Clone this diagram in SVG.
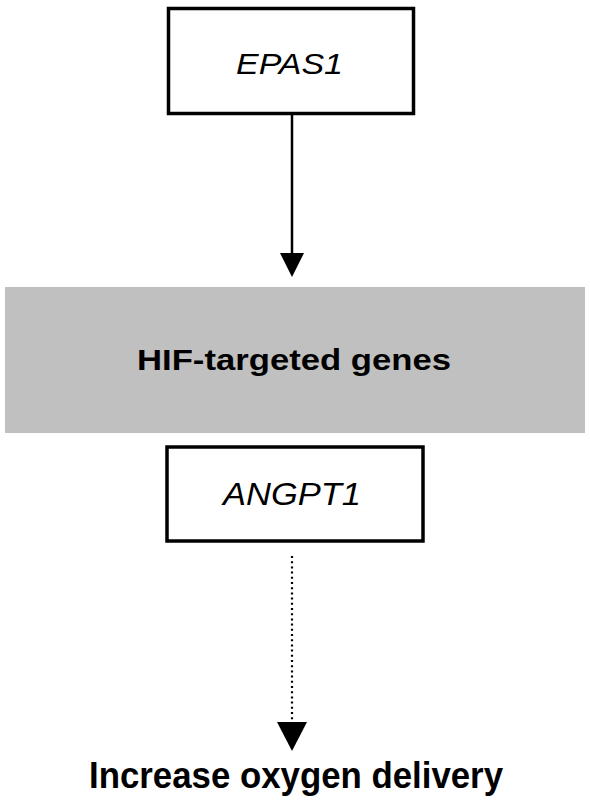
<svg xmlns="http://www.w3.org/2000/svg" width="590" height="800" viewBox="0 0 590 800">
<style>
.box{fill:#fff;stroke:#000;stroke-width:3.5}
.gene{font-family:"Liberation Sans",Arial,sans-serif;font-style:italic;fill:#000}
.bold{font-family:"Liberation Sans",Arial,sans-serif;font-weight:bold;fill:#000}
.line{stroke:#000;stroke-width:2.5;fill:none}
.dot{stroke:#000;stroke-width:2.2;fill:none;stroke-dasharray:2 3.2}
</style>
<rect width="590" height="800" fill="#fff"/>
<g id="epas1">
<rect class="box" x="168.5" y="8.5" width="245" height="105"/>
<text class="gene" x="236" y="74" font-size="29" textLength="107" lengthAdjust="spacingAndGlyphs">EPAS1</text>
</g>
<g id="hif">
<rect x="5" y="287" width="580" height="146" fill="#c0c0c0"/>
<text class="bold" x="137" y="370" font-size="30" textLength="314" lengthAdjust="spacingAndGlyphs">HIF-targeted genes</text>
</g>
<g id="angpt1">
<rect class="box" x="167" y="447" width="256" height="94"/>
<text class="gene" x="223" y="505" font-size="32" textLength="138" lengthAdjust="spacingAndGlyphs">ANGPT1</text>
</g>
<g id="outcome">
<text class="bold" x="89" y="788" font-size="36" textLength="414" lengthAdjust="spacingAndGlyphs">Increase oxygen delivery</text>
</g>
<g id="connectors">
<line class="line" x1="292" y1="115" x2="292" y2="254"/>
<polygon points="280,253 304,253 292,277" fill="#000"/>
<line class="dot" x1="292" y1="556" x2="292" y2="722"/>
<polygon points="277,722 307,722 292,751" fill="#000"/>
</g>
</svg>
